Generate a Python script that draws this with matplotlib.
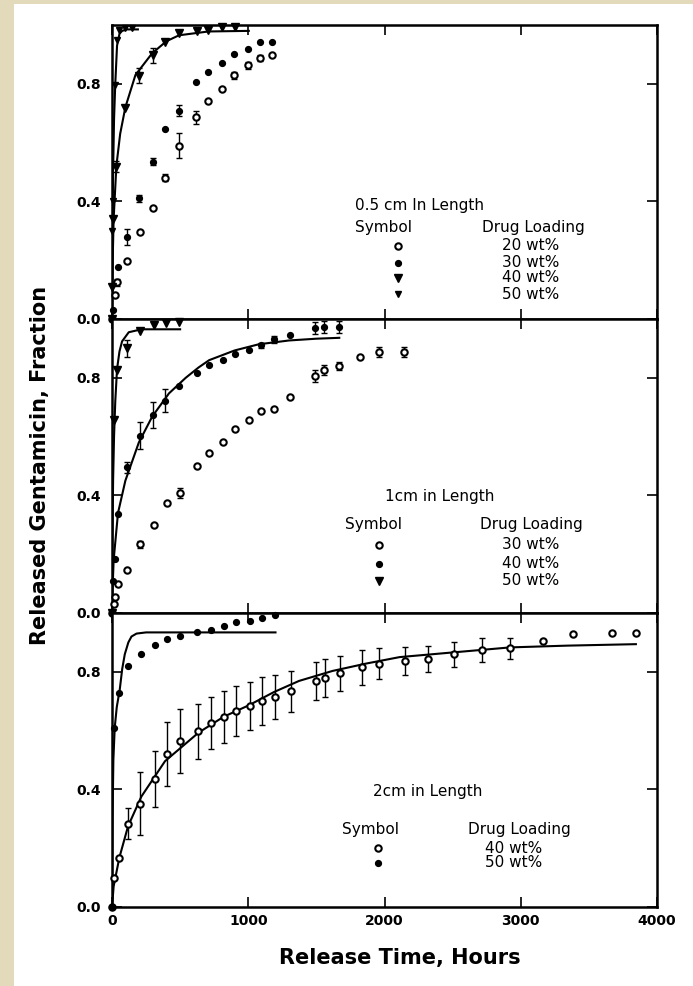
import numpy as np
import matplotlib.pyplot as plt
from matplotlib.patches import Rectangle

# ---- 0.5 cm length ----
t20_05 = [0, 20, 40, 111, 204, 300, 389, 492, 620, 708, 807, 898, 996, 1087, 1176]
y20_05 = [0.0, 0.08, 0.125, 0.197, 0.295, 0.378, 0.48, 0.589, 0.686, 0.741, 0.781, 0.829, 0.863, 0.888, 0.898]
e20_05 = [0, 0, 0.012, 0, 0, 0, 0.012, 0.043, 0.022, 0, 0, 0.012, 0.012, 0.01, 0]

t30_05 = [0, 8, 44, 111, 197, 300, 386, 492, 620, 708, 807, 898, 996, 1087, 1176]
y30_05 = [0.0, 0.03, 0.178, 0.279, 0.41, 0.535, 0.645, 0.709, 0.805, 0.84, 0.87, 0.90, 0.919, 0.943, 0.943]
e30_05 = [0, 0, 0, 0.026, 0.012, 0.012, 0, 0.02, 0, 0, 0, 0, 0, 0, 0]

t40_05 = [0, 3, 10, 32, 98, 197, 300, 389, 492, 627, 708, 807, 905]
y40_05 = [0.0, 0.11, 0.34, 0.518, 0.717, 0.828, 0.897, 0.942, 0.973, 0.98, 0.984, 0.992, 0.994]
e40_05 = [0, 0, 0, 0.018, 0, 0.025, 0.025, 0, 0, 0, 0, 0, 0]

t50_05 = [0, 2, 5, 24, 37, 49, 98, 150]
y50_05 = [0.0, 0.30, 0.40, 0.796, 0.95, 0.983, 0.99, 0.99]

fit40_05_t = [0, 5, 12, 32, 60, 98, 172, 295, 400, 492, 708, 1004]
fit40_05_y = [0, 0.2, 0.34, 0.52, 0.63, 0.72, 0.83, 0.904, 0.945, 0.965, 0.978, 0.98]
fit50_05_t = [0, 3, 8, 15, 24, 37, 55, 74, 110, 190]
fit50_05_y = [0, 0.3, 0.5, 0.68, 0.8, 0.93, 0.97, 0.98, 0.985, 0.985]

# ---- 1 cm length ----
t30_1 = [0, 12, 20, 44, 111, 204, 308, 401, 497, 627, 713, 812, 906, 1004, 1090, 1188, 1306,
         1491, 1557, 1668, 1821, 1958, 2142]
y30_1 = [0.0, 0.03, 0.056, 0.097, 0.147, 0.233, 0.298, 0.374, 0.408, 0.50, 0.545, 0.58, 0.627,
         0.658, 0.686, 0.695, 0.734, 0.805, 0.826, 0.84, 0.871, 0.888, 0.888]
e30_1 = [0, 0, 0, 0, 0, 0.012, 0, 0, 0.018, 0, 0, 0, 0, 0, 0, 0, 0,
         0.02, 0.017, 0.015, 0, 0.017, 0.017]

t40_1 = [0, 8, 24, 44, 111, 204, 303, 389, 492, 622, 713, 812, 906, 1004, 1090, 1188, 1306,
         1491, 1557, 1663]
y40_1 = [0.0, 0.11, 0.184, 0.338, 0.495, 0.603, 0.673, 0.722, 0.772, 0.816, 0.842, 0.86, 0.882,
         0.894, 0.91, 0.931, 0.945, 0.97, 0.973, 0.973]
e40_1 = [0, 0, 0, 0, 0.02, 0.045, 0.045, 0.04, 0, 0, 0, 0, 0, 0, 0.01, 0.012, 0,
         0.02, 0.02, 0.02]

t50_1 = [0, 12, 37, 111, 204, 308, 393, 492]
y50_1 = [0.0, 0.656, 0.827, 0.90, 0.958, 0.98, 0.986, 0.989]
e50_1 = [0, 0, 0, 0.028, 0, 0, 0, 0]

fit40_1_t = [0, 4, 12, 44, 98, 197, 295, 418, 541, 635, 713, 900, 1077, 1300, 1500, 1668]
fit40_1_y = [0, 0.08, 0.18, 0.34, 0.45, 0.58, 0.668, 0.747, 0.80, 0.835, 0.86, 0.893, 0.914,
             0.927, 0.933, 0.936]
fit50_1_t = [0, 3, 8, 15, 24, 37, 55, 74, 123, 217, 500]
fit50_1_y = [0, 0.25, 0.45, 0.6, 0.72, 0.83, 0.89, 0.924, 0.955, 0.965, 0.965]

# ---- 2 cm length ----
t40_2 = [0, 12, 54, 118, 209, 315, 406, 500, 630, 723, 819, 910, 1011, 1100, 1196, 1316, 1496,
         1565, 1673, 1833, 1958, 2148, 2320, 2509, 2718, 2922, 3161, 3383, 3668, 3845]
y40_2 = [0.0, 0.10, 0.168, 0.283, 0.352, 0.436, 0.521, 0.564, 0.598, 0.625, 0.647, 0.667, 0.684,
         0.70, 0.714, 0.733, 0.769, 0.778, 0.795, 0.815, 0.828, 0.837, 0.843, 0.86, 0.875, 0.88,
         0.905, 0.93, 0.932, 0.932]
e40_2 = [0, 0, 0, 0.053, 0.106, 0.095, 0.108, 0.109, 0.094, 0.089, 0.088, 0.086, 0.082, 0.082,
         0.075, 0.071, 0.064, 0.064, 0.059, 0.059, 0.052, 0.048, 0.044, 0.043, 0.04, 0.035,
         0, 0, 0, 0]

t50_2 = [0, 12, 54, 118, 214, 312, 406, 500, 627, 723, 819, 910, 1011, 1100, 1196]
y50_2 = [0.0, 0.61, 0.729, 0.82, 0.86, 0.892, 0.911, 0.922, 0.937, 0.943, 0.957, 0.97, 0.974,
         0.983, 0.993]

fit40_2_t = [0, 12, 54, 118, 216, 389, 635, 819, 1004, 1188, 1373, 1619, 1865, 2111, 2357,
             2504, 2922, 3341, 3845]
fit40_2_y = [0.0, 0.07, 0.168, 0.275, 0.376, 0.496, 0.593, 0.647, 0.686, 0.731, 0.769, 0.803,
             0.828, 0.85, 0.86, 0.866, 0.883, 0.889, 0.894]
fit50_2_t = [0, 4, 10, 20, 35, 57, 75, 94, 120, 143, 180, 250, 1200]
fit50_2_y = [0, 0.3, 0.5, 0.61, 0.68, 0.74, 0.81, 0.86, 0.9, 0.92, 0.93, 0.934, 0.934]

yticks = [0.0, 0.4, 0.8]
ytick_labels = ['0.0', '0.4', '0.8']
xticks = [0, 1000, 2000, 3000, 4000]

# marker styles
open_c = dict(marker='o', ms=4.6, mfc='white', mec='black', mew=1.5, ls='none')
fill_c = dict(marker='o', ms=4.2, mfc='black', mec='black', ls='none')
big_tri = dict(marker='v', ms=5.8, mfc='black', mec='black', ls='none')
small_tri = dict(marker='v', ms=4, mfc='black', mec='black', ls='none')

fig = plt.figure(figsize=(6.93, 9.86), dpi=100)
fig.patch.set_facecolor('#e2dabb')
fig.patches.append(Rectangle((14 / 693, 0), 1 - 14 / 693, 1 - 4 / 986,
                             transform=fig.transFigure, facecolor='white',
                             edgecolor='none', zorder=-1))

left, width, h = 112 / 693, 545 / 693, 294 / 986
bottoms = [1 - 319 / 986, 1 - 613 / 986, 1 - 907 / 986]
axes = [fig.add_axes([left, b, width, h]) for b in bottoms]


def points(ax, t, y, err, style):
    t = np.array(t)
    y = np.array(y)
    if err is not None:
        err = np.array(err)
        m = err > 0
        ax.errorbar(t[m], y[m], yerr=err[m], fmt='none', ecolor='black',
                    elinewidth=1, capsize=2.5, capthick=1, zorder=3)
    ax.plot(t, y, zorder=4, clip_on=False, **style)


def legend(ax, title, tx, sx, dx, mx, wx, ty, sy, rows):
    kw = dict(transform=ax.transAxes, fontsize=11, va='center')
    ax.text(tx, ty, title, ha='left', **kw)
    ax.text(sx, sy, 'Symbol', ha='left', **kw)
    ax.text(dx, sy, 'Drug Loading', ha='left', **kw)
    for yy, style, lab in rows:
        ax.plot([mx], [yy], transform=ax.transAxes, clip_on=False, **style)
        ax.text(wx, yy, lab, ha='left', **kw)


ax = axes[0]
points(ax, t20_05, y20_05, e20_05, open_c)
points(ax, t30_05, y30_05, e30_05, fill_c)
points(ax, t40_05, y40_05, e40_05, big_tri)
points(ax, t50_05, y50_05, None, small_tri)
ax.plot(fit40_05_t, fit40_05_y, color='black', lw=1.5, zorder=2)
ax.plot(fit50_05_t, fit50_05_y, color='black', lw=1.5, zorder=2)
legend(ax, '0.5 cm In Length', 0.446, 0.446, 0.679, 0.525, 0.716, 0.386, 0.31,
       [(0.249, open_c, '20 wt%'), (0.191, fill_c, '30 wt%'),
        (0.14, big_tri, '40 wt%'), (0.085, small_tri, '50 wt%')])

ax = axes[1]
points(ax, t30_1, y30_1, e30_1, open_c)
points(ax, t40_1, y40_1, e40_1, fill_c)
points(ax, t50_1, y50_1, e50_1, big_tri)
ax.plot(fit40_1_t, fit40_1_y, color='black', lw=1.5, zorder=2)
ax.plot(fit50_1_t, fit50_1_y, color='black', lw=1.5, zorder=2)
legend(ax, '1cm in Length', 0.50, 0.428, 0.675, 0.49, 0.716, 0.396, 0.30,
       [(0.232, open_c, '30 wt%'), (0.167, fill_c, '40 wt%'),
        (0.109, big_tri, '50 wt%')])

ax = axes[2]
points(ax, t40_2, y40_2, e40_2, open_c)
points(ax, t50_2, y50_2, None, fill_c)
ax.plot(fit40_2_t, fit40_2_y, color='black', lw=1.5, zorder=2)
ax.plot(fit50_2_t, fit50_2_y, color='black', lw=1.5, zorder=2)
legend(ax, '2cm in Length', 0.479, 0.422, 0.653, 0.488, 0.684, 0.392, 0.263,
       [(0.20, open_c, '40 wt%'), (0.15, fill_c, '50 wt%')])

for i, ax in enumerate(axes):
    ax.set_xlim(0, 4000)
    ax.set_ylim(0, 1.0)
    ax.set_xticks(xticks)
    ax.set_yticks(yticks)
    ax.set_yticklabels(ytick_labels, fontweight='bold', fontsize=10)
    ax.tick_params(direction='in', length=7, width=1.2, top=True, right=True)
    ax.tick_params(axis='y', pad=8)
    for s in ax.spines.values():
        s.set_linewidth(1.8)
    if i < 2:
        ax.set_xticklabels([])
    else:
        ax.set_xticklabels([str(x) for x in xticks], fontweight='bold', fontsize=10)
        ax.tick_params(axis='x', pad=5)

fig.text(0.058, 0.528, 'Released Gentamicin, Fraction', rotation=90,
         ha='center', va='center', fontsize=15, fontweight='bold')
fig.text(0.577, 0.028, 'Release Time, Hours', ha='center', va='center',
         fontsize=15, fontweight='bold')

fig.savefig('out.png', dpi=100, facecolor=fig.get_facecolor())
